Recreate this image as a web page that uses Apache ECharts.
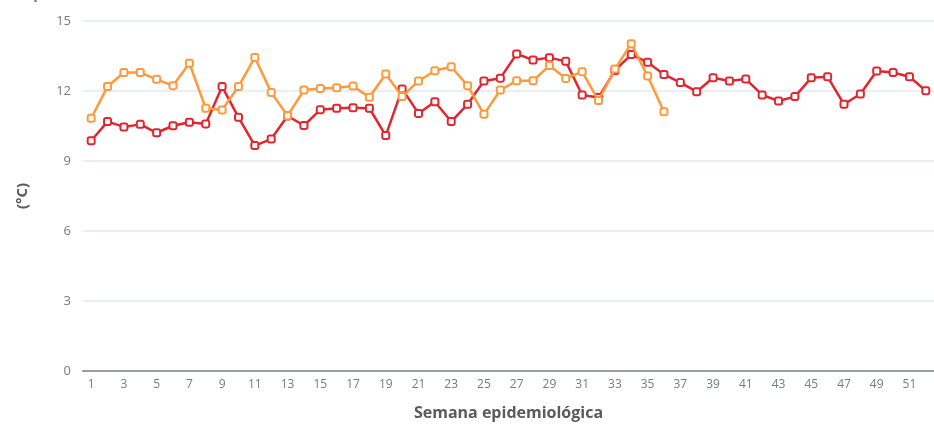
<!DOCTYPE html>
<html>
<head>
<meta charset="utf-8">
<script src="https://cdn.jsdelivr.net/npm/echarts@6/dist/echarts.min.js"></script>
<style>
  html, body { margin: 0; padding: 0; background: #fff; }
  #chart { width: 934px; height: 427px; }
</style>
</head>
<body>
<div id="chart"></div>
<script>
// Epidemiological weeks 1..52
const weeks = Array.from({ length: 52 }, (_, i) => String(i + 1));

// Weekly mean temperature (°C), full year
const tempRed = [
  9.87, 10.69, 10.46, 10.57, 10.21, 10.51, 10.66, 10.59, 12.19, 10.87,
  9.66, 9.94, 10.93, 10.52, 11.20, 11.26, 11.28, 11.26, 10.09, 12.09,
  11.04, 11.54, 10.69, 11.43, 12.43, 12.55, 13.59, 13.33, 13.43, 13.27,
  11.83, 11.72, 12.88, 13.56, 13.23, 12.71, 12.36, 11.97, 12.57, 12.43,
  12.51, 11.83, 11.57, 11.76, 12.57, 12.61, 11.43, 11.87, 12.86, 12.79,
  12.61, 12.01
];

// Weekly mean temperature (°C), current year up to week 36
const tempOrange = [
  10.83, 12.19, 12.79, 12.79, 12.50, 12.23, 13.19, 11.26, 11.19, 12.19,
  13.44, 11.94, 10.94, 12.04, 12.11, 12.14, 12.21, 11.73, 12.73, 11.76,
  12.43, 12.87, 13.04, 12.23, 11.00, 12.04, 12.44, 12.44, 13.09, 12.54,
  12.83, 11.59, 12.94, 14.03, 12.64, 11.11
];

const yTicks = [0, 3, 6, 9, 12, 15];

const chart = echarts.init(document.getElementById('chart'), null, { renderer: 'canvas' });

chart.setOption({
  animation: false,
  title: {
    text: 'Temperatura media',
    left: -4,
    top: -18,
    textStyle: { fontSize: 15, fontWeight: 'bold', color: '#777', fontFamily: 'Open Sans' }
  },
  grid: { left: 83, top: 21, width: 854, height: 350 },
  xAxis: {
    type: 'category',
    data: weeks,
    boundaryGap: true,
    name: 'Semana epidemiológica',
    nameLocation: 'middle',
    nameGap: 34,
    nameTextStyle: { fontSize: 16, fontWeight: 'bold', color: '#5a5a5a', fontFamily: 'Open Sans' },
    axisLine: { lineStyle: { color: '#9a9da6', width: 2 } },
    axisTick: { alignWithLabel: true, interval: 1, lineStyle: { color: '#8a8d96' } },
    axisLabel: { interval: 1, color: '#777a82', fontSize: 12, margin: 8, fontFamily: 'Open Sans' }
  },
  yAxis: {
    type: 'value',
    min: yTicks[0],
    max: yTicks[yTicks.length - 1],
    interval: 3,
    name: '(°C)',
    nameLocation: 'middle',
    nameGap: 53,
    nameTextStyle: { fontSize: 15, fontWeight: 'bold', color: '#5a5a5a', fontFamily: 'Open Sans' },
    axisLine: { show: false },
    axisTick: { show: false },
    axisLabel: { color: '#777a82', fontSize: 13, margin: 12, fontFamily: 'Open Sans' },
    splitLine: { lineStyle: { color: '#e6e9f2', width: 1.5 } }
  },
  series: [
    {
      name: 'Año anterior',
      type: 'line',
      data: tempRed,
      symbol: 'emptyRoundRect',
      symbolSize: 7,
      lineStyle: { color: '#e0262f', width: 2.5 },
      itemStyle: { color: '#e0262f', borderWidth: 2 },
      z: 2
    },
    {
      name: 'Año actual',
      type: 'line',
      data: tempOrange,
      symbol: 'emptyRoundRect',
      symbolSize: 7,
      lineStyle: { color: '#ff9a3c', width: 2.5 },
      itemStyle: { color: '#ff9a3c', borderWidth: 2 },
      z: 3
    }
  ]
});
</script>
</body>
</html>
